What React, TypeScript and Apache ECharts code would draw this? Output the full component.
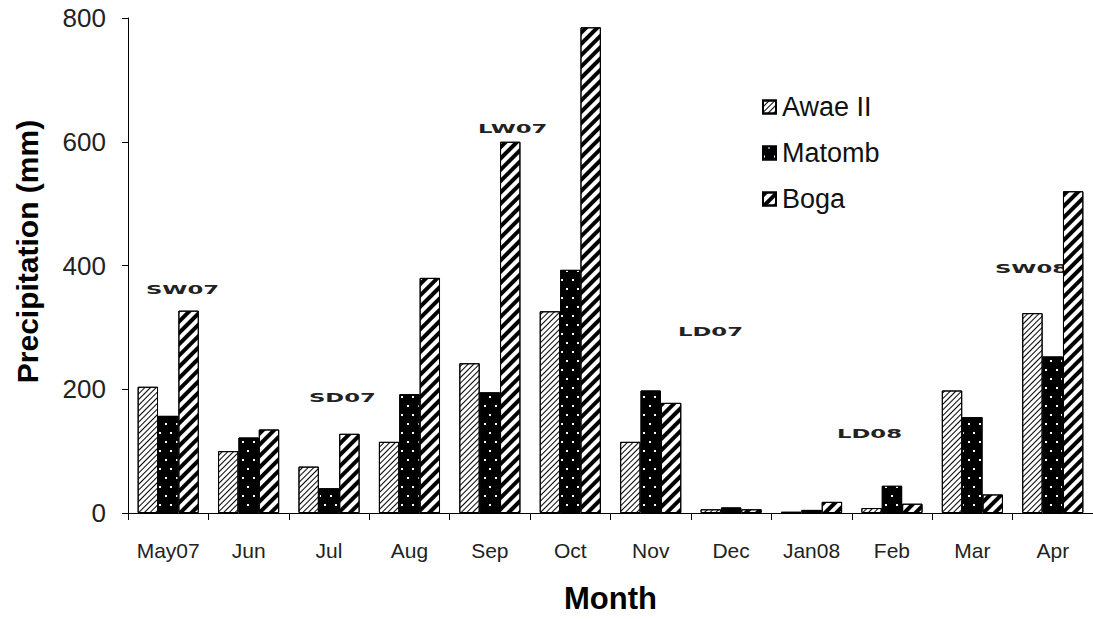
import React, { useEffect, useRef } from "react";
import * as echarts from "echarts";

const months = ["May07", "Jun", "Jul", "Aug", "Sep", "Oct", "Nov", "Dec", "Jan08", "Feb", "Mar", "Apr"];
const awae = [204, 100, 75, 115, 242, 326, 115, 6, 2, 8, 198, 323];
const matomb = [157, 122, 40, 192, 195, 393, 198, 9, 5, 44, 155, 253];
const boga = [327, 135, 128, 380, 600, 785, 178, 6, 18, 15, 30, 520];
const seriesNames = ["Awae II", "Matomb", "Boga"];
const yTicks = [0, 200, 400, 600, 800];
const annotations = [
  { label: "SW07", x: 146, y: 289 },
  { label: "SD07", x: 309, y: 397 },
  { label: "LW07", x: 478, y: 128 },
  { label: "LD07", x: 678, y: 331 },
  { label: "LD08", x: 837, y: 433 },
  { label: "SW08", x: 995, y: 268 },
];

export default function App() {
  const ref = useRef<HTMLDivElement>(null);
  useEffect(() => {
    if (!ref.current) return;
    const chart = echarts.init(ref.current, null, { renderer: "svg" });
    const border = { borderColor: "#000", borderWidth: 1 };
    chart.setOption({
      animation: false,
      backgroundColor: "#fff",
      grid: { left: 128, right: 0, top: 18, bottom: 104 },
      legend: {
        orient: "vertical",
        left: 757,
        top: 87,
        itemWidth: 13,
        itemHeight: 13,
        itemGap: 16,
        icon: "rect",
        textStyle: { fontFamily: "Liberation Sans", fontSize: 27, color: "#111", lineHeight: 30, padding: [0, 0, 0, 1] },
        data: seriesNames,
      },
      xAxis: {
        type: "category",
        data: months,
        name: "Month",
        nameLocation: "middle",
        nameGap: 70,
        nameTextStyle: { fontFamily: "Liberation Sans", fontWeight: "bold", fontSize: 31, color: "#000", verticalAlign: "top" },
        axisLine: { lineStyle: { color: "#000", width: 1 } },
        axisTick: { show: true, length: 7, lineStyle: { color: "#000" } },
        axisLabel: { fontFamily: "Liberation Sans", fontSize: 21, color: "#222", margin: 27, interval: 0 },
      },
      yAxis: {
        type: "value",
        min: yTicks[0],
        max: yTicks[yTicks.length - 1],
        interval: 200,
        name: "Precipitation (mm)",
        nameLocation: "middle",
        nameGap: 86,
        nameTextStyle: { fontFamily: "Liberation Sans", fontWeight: "bold", fontSize: 30, color: "#000", padding: [0, 0, 0, 28] },
        axisLine: { show: true, lineStyle: { color: "#000", width: 1 } },
        axisTick: { show: true, length: 6, lineStyle: { color: "#000" } },
        axisLabel: { fontFamily: "Liberation Sans", fontSize: 26, color: "#222", margin: 22 },
        splitLine: { show: false },
      },
      series: [
        {
          name: seriesNames[0],
          type: "bar",
          data: awae,
          barGap: "0%",
          barCategoryGap: "24%",
          itemStyle: {
            color: "#fff",
            ...border,
            decal: {
              symbol: "rect",
              symbolSize: 1,
              color: "#000",
              dashArrayX: [1, 0],
              dashArrayY: [1, 3],
              rotation: -Math.PI / 4,
            },
          },
        },
        {
          name: seriesNames[1],
          type: "bar",
          data: matomb,
          itemStyle: {
            color: "#000",
            ...border,
            decal: {
              symbol: "rect",
              symbolSize: 1,
              color: "#fff",
              dashArrayX: [[1.5, 8.5], [0, 5, 1.5, 3.5]],
              dashArrayY: [1.5, 6.5],
              rotation: 0,
            },
          },
        },
        {
          name: seriesNames[2],
          type: "bar",
          data: boga,
          itemStyle: {
            color: "#fff",
            ...border,
            decal: {
              symbol: "rect",
              symbolSize: 1,
              color: "#000",
              dashArrayX: [1, 0],
              dashArrayY: [4, 4],
              rotation: -Math.PI / 4,
            },
          },
        },
      ],
      graphic: annotations.map((a) => ({
        type: "text",
        x: a.x,
        y: a.y,
        scaleX: 1.75,
        style: {
          text: a.label,
          fontFamily: "DejaVu Sans",
          fontWeight: "bold",
          fontSize: 13,
          fill: "#222",
          textAlign: "left",
          textVerticalAlign: "middle",
        },
      })),
    });
    return () => chart.dispose();
  }, []);
  return <div ref={ref} style={{ position: "absolute", left: 0, top: 0, width: 1093, height: 619 }} />;
}
